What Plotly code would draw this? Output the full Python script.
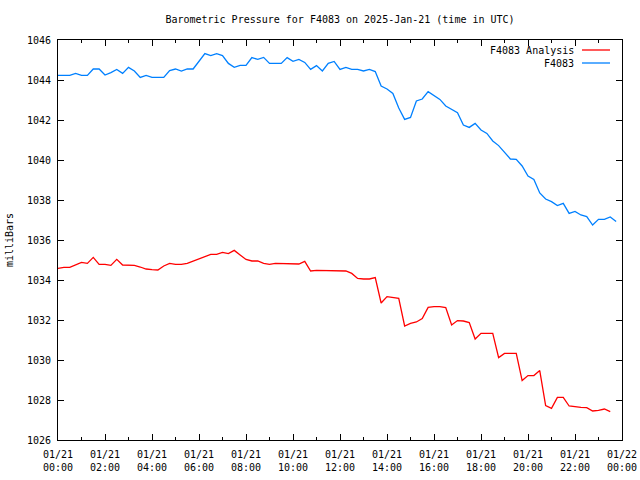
import pandas as pd
import plotly.graph_objects as go

title_text = "Barometric Pressure for F4083 on 2025-Jan-21 (time in UTC)"
y_label = "milliBars"
series_names = ["F4083 Analysis", "F4083"]
series_colors = ["#ff0000", "#0080ff"]

# F4083 observed pressure, every 15 minutes from 2025-01-21 00:00
f4083 = [
    1044.23, 1044.23, 1044.23, 1044.33, 1044.23, 1044.23, 1044.55, 1044.55, 1044.25, 1044.37,
    1044.53, 1044.33, 1044.63, 1044.45, 1044.13, 1044.23, 1044.13, 1044.13, 1044.13, 1044.47,
    1044.55, 1044.45, 1044.55, 1044.55, 1044.95, 1045.32, 1045.22, 1045.32, 1045.22, 1044.83,
    1044.63, 1044.73, 1044.73, 1045.12, 1045.03, 1045.13, 1044.83, 1044.83, 1044.83, 1045.12,
    1044.93, 1045.03, 1044.88, 1044.53, 1044.72, 1044.45, 1044.83, 1044.93, 1044.53, 1044.63,
    1044.53, 1044.53, 1044.45, 1044.53, 1044.42, 1043.70, 1043.55, 1043.33, 1042.60, 1042.03,
    1042.13, 1042.95, 1043.05, 1043.42, 1043.22, 1043.03, 1042.70, 1042.55, 1042.37, 1041.75,
    1041.63, 1041.83, 1041.50, 1041.33, 1040.95, 1040.72, 1040.37, 1040.05, 1040.03, 1039.70,
    1039.20, 1039.03, 1038.35, 1038.05, 1037.92, 1037.72, 1037.83, 1037.33, 1037.43, 1037.25,
    1037.17, 1036.75, 1037.03, 1037.03, 1037.15, 1036.93,
]

# F4083 Analysis pressure, every 15 minutes from 2025-01-21 00:00
f4083_analysis = [
    1034.58, 1034.63, 1034.63, 1034.75, 1034.88, 1034.83, 1035.13, 1034.78, 1034.78, 1034.73,
    1035.03, 1034.75, 1034.75, 1034.73, 1034.65, 1034.55, 1034.52, 1034.50, 1034.70, 1034.83,
    1034.78, 1034.78, 1034.83, 1034.95, 1035.08, 1035.17, 1035.28, 1035.28, 1035.38, 1035.32,
    1035.48, 1035.25, 1035.03, 1034.95, 1034.95, 1034.83, 1034.78, 1034.83, 1034.83, 1034.80,
    1034.80, 1034.80, 1034.93, 1034.45, 1034.48, 1034.48, 1034.48, 1034.45, 1034.45, 1034.45,
    1034.33, 1034.08, 1034.05, 1034.05, 1034.12, 1032.85, 1033.17, 1033.12, 1033.08, 1031.70,
    1031.83, 1031.90, 1032.07, 1032.63, 1032.67, 1032.67, 1032.62, 1031.75, 1031.97, 1031.95,
    1031.87, 1031.05, 1031.33, 1031.33, 1031.33, 1030.12, 1030.33, 1030.33, 1030.33, 1028.97,
    1029.22, 1029.22, 1029.47, 1027.72, 1027.58, 1028.13, 1028.13, 1027.70, 1027.65, 1027.63,
    1027.62, 1027.45, 1027.48, 1027.55, 1027.42,
]

start = "2025-01-21 00:00"
end = "2025-01-22 00:00"
t_blue = pd.date_range(start, periods=len(f4083), freq="15min")
t_red = pd.date_range(start, periods=len(f4083_analysis), freq="15min")

FONT = "DejaVu Sans Mono"
FS = 10

fig = go.Figure()
fig.add_trace(go.Scatter(x=t_red, y=f4083_analysis, mode="lines", name=series_names[0],
                         line=dict(color=series_colors[0], width=1.3)))
fig.add_trace(go.Scatter(x=t_blue, y=f4083, mode="lines", name=series_names[1],
                         line=dict(color=series_colors[1], width=1.3)))

x0, x1 = 58, 622
y0, y1 = 40, 440
W, H = 640, 480

def px2paper_x(px):
    return (px - x0) / (x1 - x0)

def px2paper_y(py):
    return 1 - (py - y0) / (y1 - y0)

# legend drawn gnuplot-style (text right-aligned, sample line on the right)
for i, (nm, col) in enumerate(zip(series_names, series_colors)):
    py = 50 + 13 * i
    fig.add_annotation(xref="paper", yref="paper", x=px2paper_x(576), y=px2paper_y(py),
                       text=nm, showarrow=False, xanchor="right", yanchor="middle",
                       font=dict(family=FONT, size=FS, color="black"))
    fig.add_shape(type="line", xref="paper", yref="paper",
                  x0=px2paper_x(582), x1=px2paper_x(610), y0=px2paper_y(py), y1=px2paper_y(py),
                  line=dict(color=col, width=1.3))

fig.update_layout(
    width=W, height=H,
    margin=dict(l=x0, r=W - x1, t=y0, b=H - y1, autoexpand=False),
    paper_bgcolor="white", plot_bgcolor="white",
    showlegend=False,
    font=dict(family=FONT, size=FS, color="black"),
    title=dict(text=title_text, x=0.5, xref="paper", xanchor="center",
               y=1 - 19 / H, yref="container", yanchor="middle", automargin=False,
               font=dict(family=FONT, size=FS, color="black")),
)
fig.update_xaxes(
    type="date", range=[start, end], automargin=False,
    tickformat="%m/%d<br>%H:%M", dtick=2 * 3600 * 1000, tick0=start,
    ticks="inside", ticklen=6, tickwidth=1, tickcolor="black",
    minor=dict(dtick=3600 * 1000, ticks="inside", ticklen=3, tickcolor="black"),
    showline=True, linecolor="black", linewidth=1, mirror="ticks",
    showgrid=False, zeroline=False,
    ticklabelstandoff=5,
    tickfont=dict(family=FONT, size=FS),
)
fig.update_yaxes(
    range=[1026, 1046], dtick=2, tick0=1026, automargin=False,
    ticks="inside", ticklen=6, tickwidth=1, tickcolor="black",
    showline=True, linecolor="black", linewidth=1, mirror="ticks",
    showgrid=False, zeroline=False,
    ticklabelstandoff=4,
    title=dict(text=y_label, font=dict(family=FONT, size=FS), standoff=11),
    tickfont=dict(family=FONT, size=FS),
)

fig.write_html("out.html")
